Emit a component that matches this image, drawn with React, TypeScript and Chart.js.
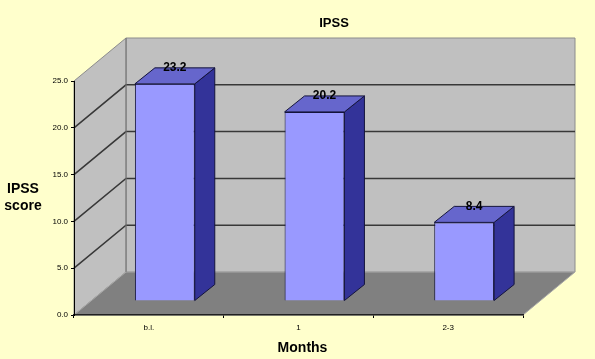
import React, { useEffect, useRef } from "react";
import { Chart, registerables } from "chart.js";

Chart.register(...registerables);

const categories = ["b.l.", "1", "2-3"];
const ipssValues = [23.2, 20.2, 8.4];
const yMin = 0;
const yMax = 25;
const yStep = 5;
const chartTitle = "IPSS";
const yTitleLines = ["IPSS", "score"];
const xTitle = "Months";

const W = 595;
const H = 359;
const FONT = "Arial, 'Liberation Sans', Helvetica, sans-serif";

// 3D geometry (oblique projection)
const WALL_DX = 52;
const WALL_DY = -43;
const BAR_DX = 16;
const BAR_DY = -14;
const SIDE_DX = 20;
const SIDE_DY = -16;

function poly(ctx: CanvasRenderingContext2D, pts: number[][]) {
  ctx.beginPath();
  ctx.moveTo(pts[0][0], pts[0][1]);
  for (let i = 1; i < pts.length; i++) ctx.lineTo(pts[i][0], pts[i][1]);
  ctx.closePath();
}

const threeDPlugin = {
  id: "threeD",
  beforeDraw(chart: any) {
    const { ctx, chartArea: a } = chart;
    const y = chart.scales.y;
    ctx.save();
    ctx.fillStyle = "#FFFFCC";
    ctx.fillRect(0, 0, chart.width, chart.height);

    const L = a.left;
    const R = a.right;
    const T = y.getPixelForValue(yMax);
    const B = y.getPixelForValue(yMin);

    // back wall
    poly(ctx, [
      [L + WALL_DX, T + WALL_DY],
      [R + WALL_DX, T + WALL_DY],
      [R + WALL_DX, B + WALL_DY],
      [L + WALL_DX, B + WALL_DY],
    ]);
    ctx.fillStyle = "#C0C0C0";
    ctx.fill();
    ctx.strokeStyle = "#8C8C8C";
    ctx.lineWidth = 1;
    ctx.stroke();

    // left wall
    poly(ctx, [
      [L, B],
      [L, T],
      [L + WALL_DX, T + WALL_DY],
      [L + WALL_DX, B + WALL_DY],
    ]);
    ctx.fillStyle = "#C0C0C0";
    ctx.fill();
    ctx.strokeStyle = "#8C8C8C";
    ctx.stroke();

    // floor
    poly(ctx, [
      [L, B],
      [R, B],
      [R + WALL_DX, B + WALL_DY],
      [L + WALL_DX, B + WALL_DY],
    ]);
    ctx.fillStyle = "#808080";
    ctx.fill();
    ctx.strokeStyle = "#A8A8A8";
    ctx.stroke();

    // gridlines
    ctx.strokeStyle = "#383838";
    ctx.lineWidth = 1.5;
    y.ticks.forEach((t: any) => {
      if (t.value <= yMin || t.value >= yMax) return;
      const py = y.getPixelForValue(t.value);
      ctx.beginPath();
      ctx.moveTo(L, py);
      ctx.lineTo(L + WALL_DX, py + WALL_DY);
      ctx.lineTo(R + WALL_DX, py + WALL_DY);
      ctx.stroke();
    });

    // wall corner
    ctx.strokeStyle = "#7A7A7A";
    ctx.lineWidth = 1;
    ctx.beginPath();
    ctx.moveTo(L + WALL_DX, T + WALL_DY);
    ctx.lineTo(L + WALL_DX, B + WALL_DY);
    ctx.stroke();
    ctx.restore();
  },
  beforeDatasetsDraw(chart: any) {
    chart.ctx.save();
    chart.ctx.translate(BAR_DX, BAR_DY);
  },
  afterDatasetsDraw(chart: any) {
    const ctx = chart.ctx;
    ctx.restore();
    const meta = chart.getDatasetMeta(0);
    ctx.save();
    ctx.lineWidth = 1;
    ctx.strokeStyle = "#14143C";
    meta.data.forEach((el: any) => {
      const p = el.getProps(["x", "y", "base", "width"], true);
      const left = p.x - p.width / 2 + BAR_DX;
      const right = p.x + p.width / 2 + BAR_DX;
      const top = p.y + BAR_DY;
      const bottom = p.base + BAR_DY;
      // side face
      poly(ctx, [
        [right, top],
        [right + SIDE_DX, top + SIDE_DY],
        [right + SIDE_DX, bottom + SIDE_DY],
        [right, bottom],
      ]);
      ctx.fillStyle = "#333399";
      ctx.fill();
      ctx.stroke();
      // top face
      poly(ctx, [
        [left, top],
        [left + SIDE_DX, top + SIDE_DY],
        [right + SIDE_DX, top + SIDE_DY],
        [right, top],
      ]);
      ctx.fillStyle = "#6666CC";
      ctx.fill();
      ctx.stroke();
    });
    // value labels
    ctx.fillStyle = "#000";
    ctx.font = `bold 12px ${FONT}`;
    ctx.textAlign = "center";
    ctx.textBaseline = "middle";
    meta.data.forEach((el: any, i: number) => {
      const p = el.getProps(["x", "y"], true);
      ctx.fillText(
        ipssValues[i].toFixed(1),
        p.x + BAR_DX + SIDE_DX / 2,
        p.y + BAR_DY + SIDE_DY
      );
    });
    ctx.restore();
  },
  afterDraw(chart: any) {
    const ctx = chart.ctx;
    const a = chart.chartArea;
    ctx.save();
    ctx.fillStyle = "#000";
    ctx.textAlign = "center";
    ctx.textBaseline = "middle";
    ctx.font = `bold 13px ${FONT}`;
    ctx.fillText(chartTitle, a.left + 260, 23);
    ctx.font = `bold 14px ${FONT}`;
    ctx.fillText(yTitleLines[0], 23, 189);
    ctx.fillText(yTitleLines[1], 23, 206);
    ctx.fillText(xTitle, (a.left + a.right) / 2 + 4, 348);
    ctx.restore();
  },
};

export default function App() {
  const ref = useRef<HTMLCanvasElement | null>(null);

  useEffect(() => {
    document.body.style.margin = "0";
    const canvas = ref.current;
    if (!canvas) return;
    const chart = new Chart(canvas, {
      type: "bar",
      data: {
        labels: categories,
        datasets: [
          {
            label: chartTitle,
            data: ipssValues,
            backgroundColor: "#9999FF",
            borderColor: "#14143C",
            borderWidth: 1,
            barPercentage: 0.4,
            categoryPercentage: 1.0,
            clip: false as any,
          },
        ],
      },
      options: {
        responsive: false,
        animation: false,
        devicePixelRatio: 1,
        layout: { padding: { top: 81, right: 72, left: 0, bottom: 0 } },
        plugins: {
          legend: { display: false },
          title: { display: false },
          tooltip: { enabled: false },
        },
        scales: {
          x: {
            type: "category",
            offset: true,
            grid: {
              offset: true,
              drawOnChartArea: false,
              drawTicks: true,
              tickLength: 3,
              color: "#000",
            },
            border: { color: "#202020", width: 1.5 },
            ticks: {
              color: "#000",
              font: { size: 8, family: FONT },
              padding: 5,
              maxRotation: 0,
            },
            afterFit: (s: any) => {
              s.height = 44;
            },
          },
          y: {
            min: yMin,
            max: yMax,
            grid: {
              drawOnChartArea: false,
              drawTicks: true,
              tickLength: 3,
              color: "#000",
            },
            border: { color: "#000", width: 1 },
            ticks: {
              stepSize: yStep,
              color: "#000",
              font: { size: 8, family: FONT },
              padding: 3,
              callback: (v: any) => Number(v).toFixed(1),
            },
            afterFit: (s: any) => {
              s.width = 74;
            },
          },
        },
      },
      plugins: [threeDPlugin],
    });
    return () => chart.destroy();
  }, []);

  return (
    <div style={{ position: "absolute", left: 0, top: 0, width: W, height: H }}>
      <canvas ref={ref} width={W} height={H} style={{ display: "block" }} />
    </div>
  );
}
